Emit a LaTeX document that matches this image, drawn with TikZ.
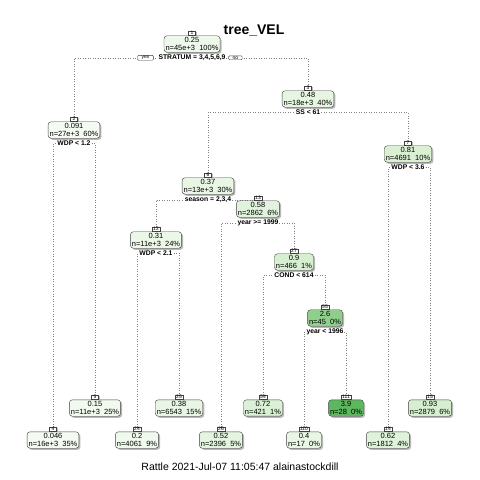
\documentclass[tikz,border=0pt]{standalone}
\usepackage{fontspec}
\setmainfont{Liberation Sans}
\usetikzlibrary{positioning,shadows,backgrounds}

% fills by fitted value
\definecolor{gA}{HTML}{F5FBF3}
\definecolor{gB}{HTML}{F2FAF0}
\definecolor{gC}{HTML}{F0F9ED}
\definecolor{gD}{HTML}{EEF8EB}
\definecolor{gE}{HTML}{ECF7E8}
\definecolor{gF}{HTML}{E9F6E5}
\definecolor{gG}{HTML}{E5F5E1}
\definecolor{gH}{HTML}{E3F4DF}
\definecolor{gI}{HTML}{E0F3DC}
\definecolor{gJ}{HTML}{DFF2DA}
\definecolor{gK}{HTML}{DBF1D6}
\definecolor{gL}{HTML}{D9F0D3}
\definecolor{gM}{HTML}{D6EFD0}
\definecolor{gN}{HTML}{8FCF8B}
\definecolor{gO}{HTML}{5DB75E}

\begin{document}
\begin{tikzpicture}[x=1pt, y=-1pt,
    box/.style = {draw=black!75, rounded corners=3pt, fill=#1, align=center,
      inner xsep=1.5pt, inner ysep=1.2pt, font=\fontsize{7.5}{8.7}\selectfont,
      drop shadow={shadow xshift=1.6pt, shadow yshift=-1.6pt, fill=black!40, opacity=.7}},
    num/.style = {draw=black!75, fill=white, inner xsep=1.2pt, inner ysep=0.5pt,
      minimum width=7pt, font=\fontsize{5}{5.5}\selectfont,
      drop shadow={shadow xshift=1pt, shadow yshift=-1pt, fill=black!40, opacity=.7}},
    splt/.style = {fill=white, inner sep=0.8pt, font=\bfseries\fontsize{6.8}{8}\selectfont},
    yn/.style = {draw=black!75, fill=white, rounded corners=1pt, inner xsep=4pt, inner ysep=0.6pt,
      font=\fontsize{5}{5.5}\selectfont},
    branch/.style = {gray, dotted, line width=0.5pt}]
  \useasboundingbox (0,0) rectangle (480,480);

  \node[font=\bfseries\fontsize{14}{16}\selectfont] (title) at (254,31) {tree\_VEL};

  % internal nodes
  \node[box=gD] (n1) at (192,44) {0.25\\n=45e+3\ \ 100\%};
  \node[box=gA] (n2) at (74,130) {0.091\\n=27e+3\ \ 60\%};
  \node[box=gG] (n3) at (308,99) {0.48\\n=18e+3\ \ 40\%};
  \node[box=gF] (n6) at (208,186) {0.37\\n=13e+3\ \ 30\%};
  \node[box=gL] (n7) at (408,154) {0.81\\n=4691\ \ 10\%};
  \node[box=gE] (n12) at (156,240) {0.31\\n=11e+3\ \ 24\%};
  \node[box=gI] (n13) at (258,209) {0.58\\n=2862\ \ 6\%};
  \node[box=gM] (n27) at (294,262) {0.9\\n=466\ \ 1\%};
  \node[box=gN] (n55) at (325,318) {2.6\\n=45\ \ 0\%};

  % leaves
  \node[box=gA] (n4) at (53,440) {0.046\\n=16e+3\ \ 35\%};
  \node[box=gB] (n5) at (95,408) {0.15\\n=11e+3\ \ 25\%};
  \node[box=gC] (n24) at (137,440) {0.2\\n=4061\ \ 9\%};
  \node[box=gF] (n25) at (179,408) {0.38\\n=6543\ \ 15\%};
  \node[box=gH] (n26) at (221,440) {0.52\\n=2396\ \ 5\%};
  \node[box=gK] (n54) at (263,408) {0.72\\n=421\ \ 1\%};
  \node[box=gF] (n110) at (304,440) {0.4\\n=17\ \ 0\%};
  \node[box=gO] (n111) at (346,408) {3.9\\n=28\ \ 0\%};
  \node[box=gJ] (n14) at (388,440) {0.62\\n=1812\ \ 4\%};
  \node[box=gM] (n15) at (430,408) {0.93\\n=2879\ \ 6\%};

  % node numbers
  \foreach \k in {1,2,3,4,5,6,7,12,13,14,15,24,25,26,27,54,55,110,111}
    \node[num, above=0pt of n\k] (l\k) {\k};

  % split labels
  \node[splt, below=1.5pt of n1] (s1) {STRATUM = 3,4,5,6,9};
  \node[splt, below=1.5pt of n2] (s2) {WDP < 1.2};
  \node[splt, below=1.5pt of n3] (s3) {SS < 61};
  \node[splt, below=1.5pt of n6] (s6) {season = 2,3,4};
  \node[splt, below=1.5pt of n7] (s7) {WDP < 3.6};
  \node[splt, below=1.5pt of n12] (s12) {WDP < 2.1};
  \node[splt, below=1.5pt of n13] (s13) {year >= 1999};
  \node[splt, below=1.5pt of n27] (s27) {COND < 614};
  \node[splt, below=1.5pt of n55] (s55) {year < 1996};

  \node[yn, left=4pt of s1] (yes) {yes};
  \node[yn, right=2pt of s1] (no) {no};

  \begin{scope}[on background layer]
    \draw[branch] (l2.north) |- (s1) -| (l3.north);
    \draw[branch] (l4.north) |- (s2) -| (l5.north);
    \draw[branch] (l6.north) |- (s3) -| (l7.north);
    \draw[branch] (l12.north) |- (s6) -| (l13.north);
    \draw[branch] (l14.north) |- (s7) -| (l15.north);
    \draw[branch] (l24.north) |- (s12) -| (l25.north);
    \draw[branch] (l26.north) |- (s13) -| (l27.north);
    \draw[branch] (l54.north) |- (s27) -| (l55.north);
    \draw[branch] (l110.north) |- (s55) -| (l111.north);
  \end{scope}

  \node[font=\fontsize{10.5}{12}\selectfont] (foot) at (240,467) {Rattle 2021-Jul-07 11:05:47 alainastockdill};
\end{tikzpicture}
\end{document}
